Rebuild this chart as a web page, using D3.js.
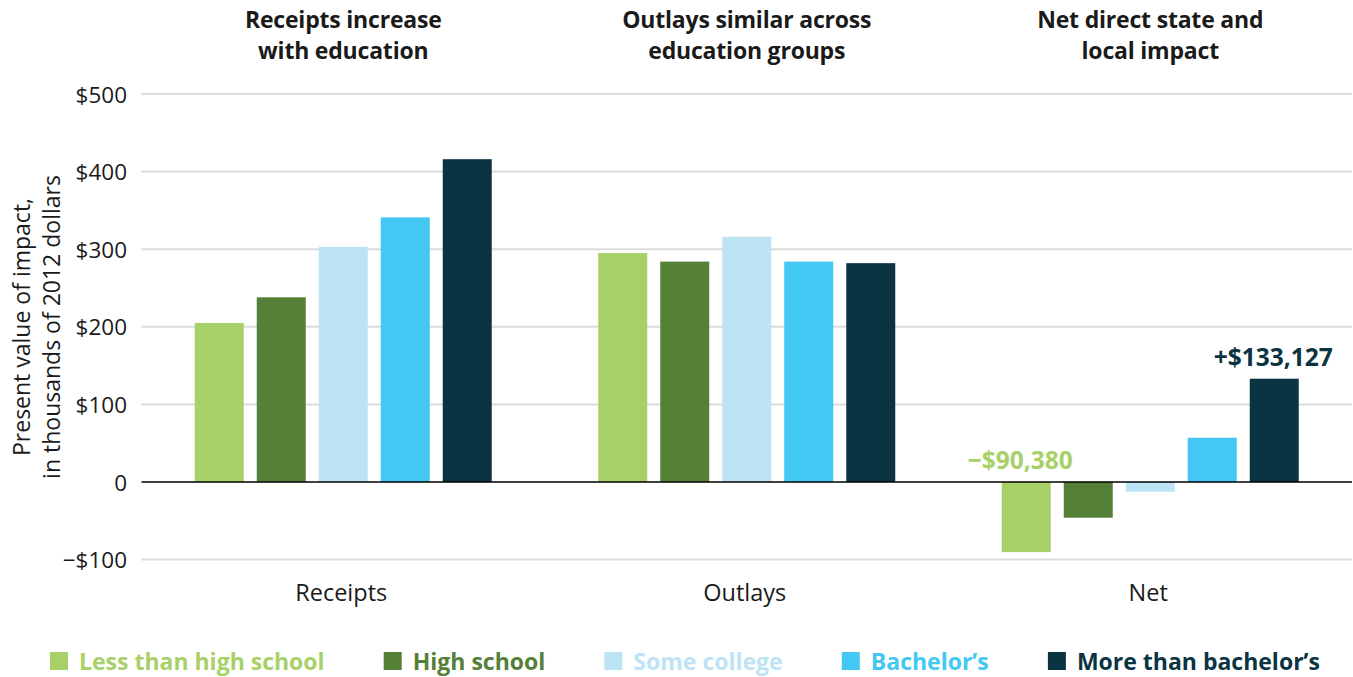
<!DOCTYPE html>
<html>
<head>
<meta charset="utf-8">
<script src="https://cdn.jsdelivr.net/npm/d3@7"></script>
<style>
  html, body { margin: 0; padding: 0; background: #fff; }
  svg { display: block; }
  text { font-family: "Open Sans", "Noto Sans", sans-serif; }
</style>
</head>
<body>
<svg id="chart" width="1353" height="677"></svg>
<script>
// ---------- data ----------
const categories = ["Receipts", "Outlays", "Net"];
const groups = ["Less than high school", "High school", "Some college", "Bachelor\u2019s", "More than bachelor\u2019s"];
const colors = ["#a8d068", "#558038", "#bce4f5", "#42c8f2", "#0b3443"];
const receipts = [205, 238, 303, 341, 416];
const outlays  = [295, 284, 316, 284, 282];
const net      = [-90.38, -46, -12.5, 57, 133.127];
const titles = [
  ["Receipts increase", "with education"],
  ["Outlays similar across", "education groups"],
  ["Net direct state and", "local impact"]
];
const yTicks = [-100, 0, 100, 200, 300, 400, 500];
const yTickLabels = ["\u2212$100", "0", "$100", "$200", "$300", "$400", "$500"];
const yTitle = ["Present value of impact,", "in thousands of 2012 dollars"];
const annotations = [
  { cat: "Net", group: 0, text: "\u2212$90,380" },
  { cat: "Net", group: 4, text: "+$133,127" }
];

const seriesByCat = { Receipts: receipts, Outlays: outlays, Net: net };

// ---------- layout ----------
const ink = "#1a1a1a";
const svg = d3.select("#chart");
const left = 141.5, right = 1352;

const x0 = d3.scaleBand().domain(categories).range([left, right]).padding(0);
const groupWidth = 297;
const x1 = d3.scaleBand().domain(d3.range(groups.length)).range([0, groupWidth]).paddingInner(13 / 62).paddingOuter(0);
const y = d3.scaleLinear().domain([-100, 500]).range([559.6, 94]);

const groupStart = c => x0(c) + x0.bandwidth() / 2 - groupWidth / 2;

// gridlines
svg.append("g").selectAll("line")
  .data(yTicks.filter(t => t !== 0))
  .join("line")
  .attr("x1", left).attr("x2", right)
  .attr("y1", d => y(d)).attr("y2", d => y(d))
  .attr("stroke", "#dcdcdc").attr("stroke-width", 2);

// y axis labels
const yAxis = d3.axisLeft(y).tickValues(yTicks).tickSize(0).tickPadding(0)
  .tickFormat((d, i) => yTickLabels[i]);
const yg = svg.append("g").attr("transform", "translate(127,0)").call(yAxis);
yg.select(".domain").remove();
yg.selectAll("text")
  .style("font-family", '"Open Sans", sans-serif')
  .style("font-size", "22.5px")
  .style("fill", ink)
  .attr("dy", "0.36em");

// bars
const barData = [];
categories.forEach(c => seriesByCat[c].forEach((v, i) => barData.push({ c, i, v })));
svg.append("g").selectAll("rect")
  .data(barData)
  .join("rect")
  .attr("x", d => groupStart(d.c) + x1(d.i))
  .attr("width", x1.bandwidth())
  .attr("y", d => y(Math.max(0, d.v)))
  .attr("height", d => Math.abs(y(d.v) - y(0)))
  .attr("fill", d => colors[d.i]);

// zero line
svg.append("line")
  .attr("x1", left).attr("x2", right)
  .attr("y1", y(0)).attr("y2", y(0))
  .attr("stroke", "#000").attr("stroke-width", 1.6);

// category labels
svg.append("g").selectAll("text")
  .data(categories)
  .join("text")
  .attr("x", d => x0(d) + x0.bandwidth() / 2 - 2)
  .attr("y", 601)
  .attr("text-anchor", "middle")
  .style("font-size", "23.5px")
  .style("fill", ink)
  .text(d => d);

// titles
const tg = svg.append("g").selectAll("text")
  .data(categories)
  .join("text")
  .attr("text-anchor", "middle")
  .style("font-size", "23px")
  .style("font-weight", "700")
  .style("letter-spacing", "-0.2px")
  .style("fill", ink)
  .attr("transform", d => `translate(${x0(d) + x0.bandwidth() / 2},0)`);
tg.each(function (d, i) {
  const t = d3.select(this);
  titles[i].forEach((line, k) => {
    t.append("tspan").attr("x", 0).attr("y", 28 + k * 31).text(line);
  });
});

// annotations
svg.append("g").selectAll("text")
  .data(annotations)
  .join("text")
  .attr("x", d => groupStart(d.cat) + x1(d.group) + x1.bandwidth() / 2 + (d.group === 0 ? -6 : -1))
  .attr("y", d => {
    const v = seriesByCat[d.cat][d.group];
    return (v > 0 ? y(v) : y(0)) - 13;
  })
  .attr("text-anchor", "middle")
  .style("font-size", "24.5px")
  .style("font-weight", "700")
  .style("fill", d => colors[d.group])
  .text(d => d.text);

// y title
const yt = svg.append("text")
  .attr("transform", "translate(0,327) rotate(-90)")
  .attr("text-anchor", "middle")
  .style("font-size", "23px")
  .style("fill", ink);
yTitle.forEach((line, k) => {
  yt.append("tspan").attr("x", 0).attr("y", 30 + k * 30).text(line);
});

// legend (flow layout)
const lg = svg.append("g");
const legendStart = 50, legendEnd = 1320, sq = 18, textGap = 29;
const items = groups.map((g, i) => {
  const gi = lg.append("g");
  gi.append("rect").attr("width", sq).attr("height", sq).attr("y", 652).attr("fill", colors[i]);
  const t = gi.append("text").attr("x", textGap).attr("y", 669.5)
    .style("font-size", "23px").style("font-weight", "700")
    .style("fill", colors[i]).text(g);
  return { gi, w: textGap + t.node().getComputedTextLength() };
});
const totalW = d3.sum(items, d => d.w);
const gap = (legendEnd - legendStart - totalW) / (items.length - 1);
let cx = legendStart;
items.forEach(it => { it.gi.attr("transform", `translate(${cx},0)`); cx += it.w + gap; });
</script>
</body>
</html>
